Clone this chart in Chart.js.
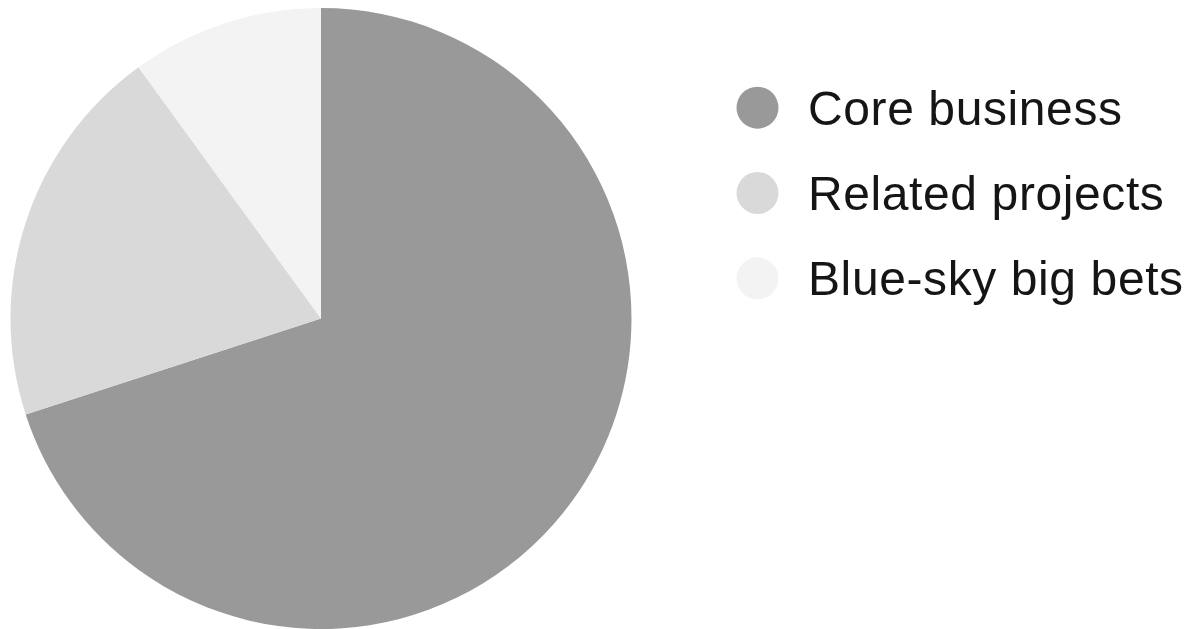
<!DOCTYPE html>
<html>
<head>
<meta charset="utf-8">
<script src="https://cdn.jsdelivr.net/npm/chart.js@4"></script>
<style>
  html, body { margin: 0; padding: 0; background: #fff; }
  #wrap { position: relative; width: 1192px; height: 629px; }
</style>
</head>
<body>
<div id="wrap"><canvas id="chart" width="1192" height="629"></canvas></div>
<script>
const labels = ['Core business', 'Related projects', 'Blue-sky big bets'];
const shares = [70, 20, 10];
const colors = ['#999999', '#d9d9d9', '#f3f3f3'];

// legend drawn next to the pie, one row per label
const sideLegend = {
    id: 'sideLegend',
    afterDraw(chart) {
        const ctx = chart.ctx;
        const ds = chart.data.datasets[0];
        ctx.save();
        ctx.font = '48px "Liberation Sans", Arial, sans-serif';
        ctx.letterSpacing = '0.6px';
        ctx.textBaseline = 'alphabetic';
        ctx.textAlign = 'left';
        chart.data.labels.forEach((lab, i) => {
            const cy = 107.7 + i * 85.3;
            ctx.fillStyle = ds.backgroundColor[i];
            ctx.beginPath();
            ctx.arc(757.5, cy, 21, 0, Math.PI * 2);
            ctx.fill();
            ctx.fillStyle = '#151515';
            ctx.fillText(lab, 808, cy + 17);
        });
        ctx.restore();
    }
};

new Chart(document.getElementById('chart'), {
    type: 'pie',
    data: {
        labels: labels,
        datasets: [{
            data: shares,
            backgroundColor: colors,
            borderWidth: 0
        }]
    },
    options: {
        responsive: false,
        animation: false,
        layout: { padding: { left: 10, right: 560, top: 8, bottom: 0 } },
        plugins: {
            legend: { display: false },
            tooltip: { enabled: false }
        }
    },
    plugins: [sideLegend]
});
</script>
</body>
</html>
